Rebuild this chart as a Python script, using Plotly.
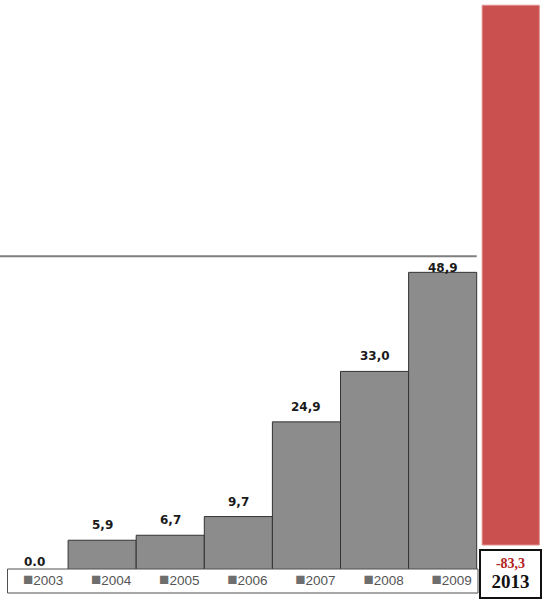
import plotly.graph_objects as go

# ---- data ----
years = ["2003", "2004", "2005", "2006", "2007", "2008", "2009"]
values = [0.0, 5.9, 6.7, 9.7, 24.9, 33.0, 48.9]
value_labels = ["0.0", "5,9", "6,7", "9,7", "24,9", "33,0", "48,9"]
extra_year = "2013"
extra_value = -83.3
extra_label = "-83,3"
ref_level = 51.5

x_pos = list(range(len(years)))
extra_x = len(years)

PX_Y = 6.23    # px per unit, main axis
PX_Y2 = 6.48   # px per unit, secondary axis
PLOT_H = 569

fig = go.Figure()

fig.add_trace(go.Bar(
    x=x_pos, y=values, width=1.0,
    marker=dict(color="#8c8c8c", line=dict(color="#333333", width=1)),
    showlegend=False, hoverinfo="skip",
))

fig.add_trace(go.Bar(
    x=[extra_x], y=[extra_value], width=0.84, yaxis="y2",
    marker=dict(color="#c9504f", line=dict(color="#e09090", width=1)),
    showlegend=False, hoverinfo="skip",
))

ticktext = ["<span style='color:#6e6e6e;font-size:17px'>■</span>" + y for y in years]

label_off = 15 / PX_Y
line_off = 12 / PX_Y
annotations = [
    dict(x=xi, xref="x", y=min(v + label_off, ref_level - line_off), yref="y",
         text=lab, showarrow=False, yanchor="middle",
         font=dict(family="DejaVu Sans", size=12, color="#1a1a1a", weight="bold"))
    for xi, v, lab in zip(x_pos, values, value_labels)
]
annotations.append(
    dict(x=extra_x, xref="x", y=-4.5 / PLOT_H, yref="paper", xanchor="center", yanchor="middle",
         text=(f"<span style='color:#b22222;font-size:14px'>{extra_label}</span><br>"
               f"<span style='font-size:19px'>{extra_year}</span>"),
         font=dict(family="Liberation Serif", size=15, color="#111111", weight="bold"),
         showarrow=False, width=59, height=46, bgcolor="white",
         bordercolor="#111111", borderwidth=2, borderpad=0)
)

fig.update_layout(
    width=550, height=606,
    margin=dict(l=0, r=0, t=0, b=606 - PLOT_H),
    paper_bgcolor="white", plot_bgcolor="white",
    barmode="overlay",
    xaxis=dict(range=[-0.5, -0.5 + 550 / 68.1], tickvals=x_pos, ticktext=ticktext,
               showgrid=False, zeroline=False, showline=False, ticks="",
               tickfont=dict(family="Liberation Sans", size=13.5, color="#555555"),
               ticklabelshift=9, ticklabelstandoff=1),
    yaxis=dict(range=[8 / PX_Y, 8 / PX_Y + PLOT_H / PX_Y], visible=False,
               showgrid=False, zeroline=False),
    yaxis2=dict(range=[24 / PX_Y2, -545 / PX_Y2], overlaying="y", visible=False,
                showgrid=False, zeroline=False),
    shapes=[
        dict(type="line", xref="x", yref="y", x0=-0.5, x1=len(years) - 0.5,
             y0=ref_level, y1=ref_level, line=dict(color="#7f7f7f", width=2)),
        dict(type="rect", xref="paper", yref="paper", x0=7.5 / 550, x1=478 / 550,
             y0=-24 / PLOT_H, y1=0, line=dict(color="#505050", width=1),
             fillcolor="rgba(0,0,0,0)"),
    ],
    annotations=annotations,
)

fig.write_html("out.html", config={"displayModeBar": False},
               post_script="document.body.style.margin='0px';")
